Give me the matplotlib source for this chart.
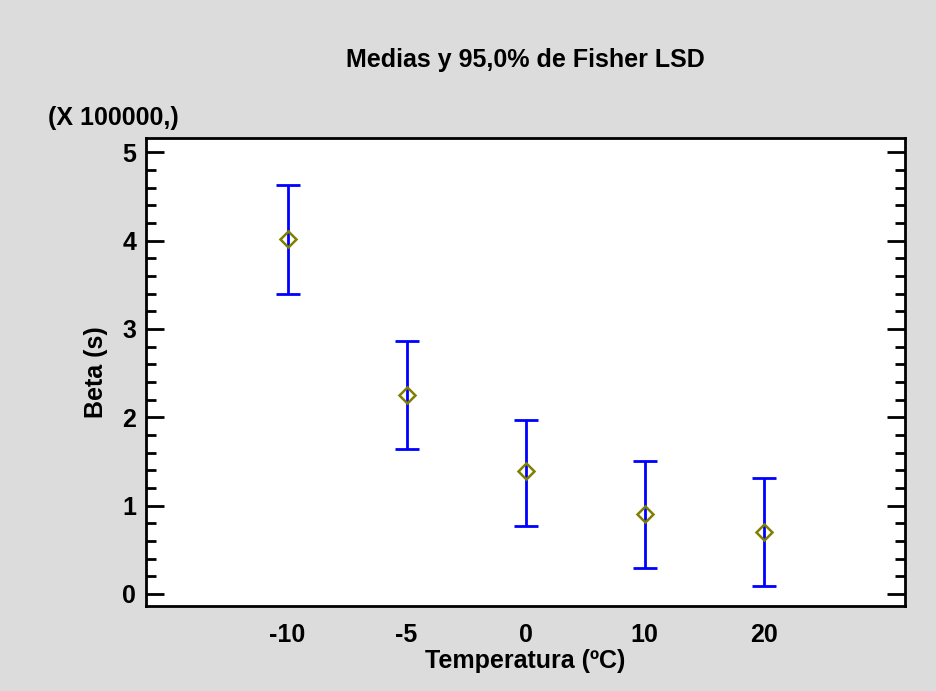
import matplotlib
matplotlib.use("Agg")
import matplotlib.pyplot as plt
from matplotlib.ticker import MultipleLocator

plt.rcParams['font.family'] = ['Liberation Sans', 'DejaVu Sans']
plt.rcParams['font.weight'] = 'bold'

# data (Beta in units of 100000 s)
temps = ['-10', '-5', '0', '10', '20']
means = [4.02, 2.25, 1.39, 0.91, 0.70]
lower = [3.40, 1.64, 0.77, 0.29, 0.09]
upper = [4.63, 2.86, 1.97, 1.50, 1.31]

pos = list(range(len(temps)))
err_lo = [m - l for m, l in zip(means, lower)]
err_hi = [u - m for m, u in zip(means, upper)]

fig = plt.figure(figsize=(9.36, 6.91), dpi=100)
fig.patch.set_facecolor('#dcdcdc')
ax = fig.add_axes([0.156, 0.123, 0.811, 0.677])
ax.set_facecolor('white')

ax.errorbar(pos, means, yerr=[err_lo, err_hi], fmt='none', ecolor='#0000ff',
            elinewidth=2, capsize=8.5, capthick=2)
ax.plot(pos, means, linestyle='none', marker='D', markersize=8,
        markerfacecolor='none', markeredgecolor='#808000', markeredgewidth=1.8)

ax.set_xlim(-1.19, 5.19)
ax.set_ylim(-0.136, 5.16)
ax.set_xticks(pos)
ax.set_xticklabels(temps)
ax.yaxis.set_major_locator(MultipleLocator(1))
ax.yaxis.set_minor_locator(MultipleLocator(0.2))

ax.tick_params(axis='x', length=0, labelsize=18, pad=12)
ax.tick_params(axis='y', which='major', direction='in', length=13, width=2,
               left=True, right=True, labelsize=18, pad=7)
ax.tick_params(axis='y', which='minor', direction='in', length=7, width=2,
               left=True, right=True)
for s in ax.spines.values():
    s.set_linewidth(2)

ax.set_xlabel('Temperatura (ºC)', fontsize=18, fontweight='bold', labelpad=2)
ax.set_ylabel('Beta (s)', fontsize=18, fontweight='bold', labelpad=10)
fig.text(0.561, 0.913, 'Medias y 95,0% de Fisher LSD', ha='center', va='center',
         fontsize=18, fontweight='bold')
fig.text(0.051, 0.829, '(X 100000,)', ha='left', va='center',
         fontsize=18, fontweight='bold')

fig.savefig('out.png', dpi=100, facecolor=fig.get_facecolor())
